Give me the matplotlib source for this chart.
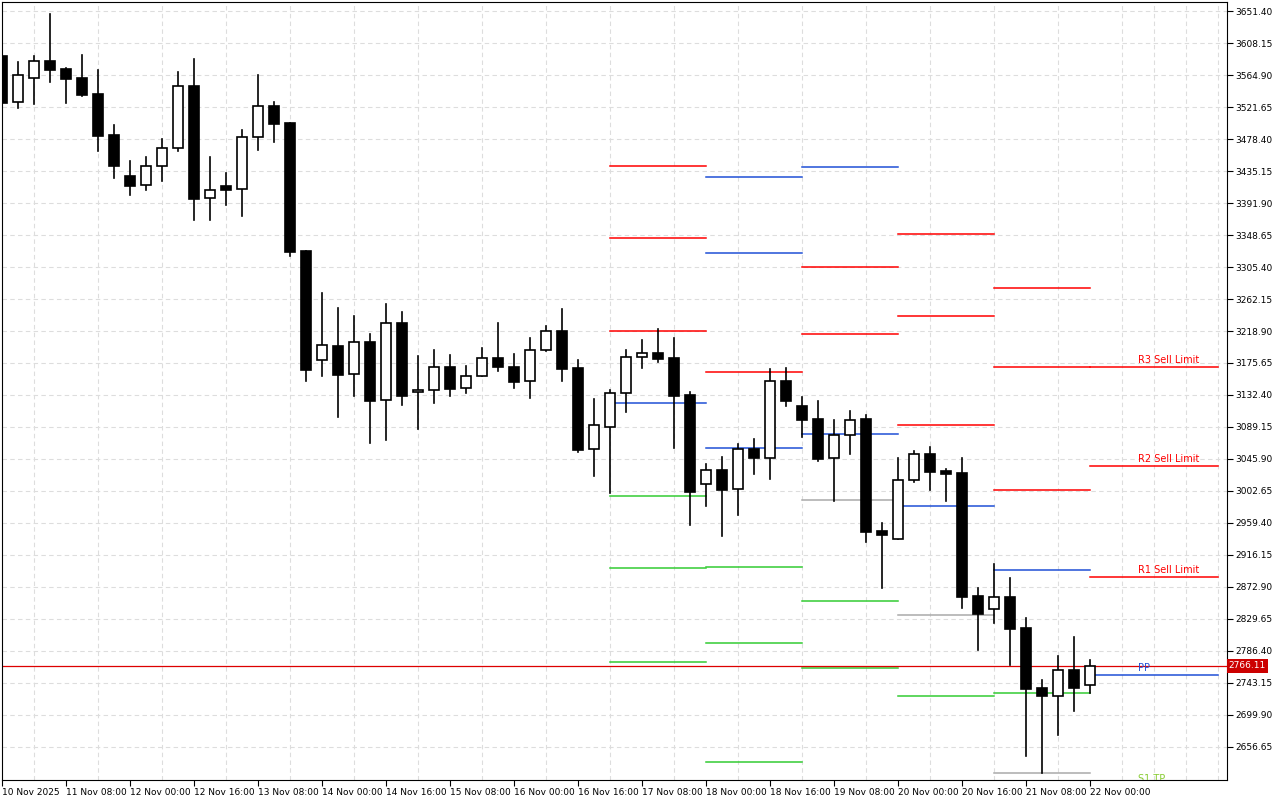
import matplotlib
matplotlib.use("Agg")
import matplotlib.pyplot as plt
from matplotlib.patches import Rectangle

# OHLC (4h candles)
opens = [3590.6, 3528, 3561, 3584, 3573, 3561, 3539, 3484, 3428, 3416, 3442, 3466, 3550, 3399, 3415, 3411, 3481, 3523, 3500, 3327,
         3180, 3199, 3161, 3204, 3126, 3230, 3136, 3139, 3170, 3142, 3158, 3182, 3170, 3151, 3193, 3219, 3169, 3059, 3089, 3135,
         3184, 3189, 3182, 3132, 3012, 3031, 3005, 3059, 3047, 3151, 3118, 3100, 3047, 3078, 3100, 2949, 2938, 3018, 3053, 3030,
         3027, 2861, 2843, 2859, 2818, 2736, 2726, 2761, 2740]
highs = [3596, 3583, 3591, 3647, 3574, 3592, 3572, 3497, 3449, 3454, 3478, 3569, 3587, 3454, 3432, 3491, 3565, 3528, 3500, 3327,
         3270, 3250, 3239, 3215, 3255, 3245, 3185, 3193, 3187, 3172, 3196, 3230, 3188, 3209, 3226, 3249, 3180, 3127, 3139, 3193,
         3207, 3222, 3209, 3136, 3039, 3049, 3066, 3073, 3168, 3169, 3130, 3124, 3099, 3111, 3105, 2959, 3047, 3057, 3062, 3032,
         3047, 2872, 2904, 2885, 2831, 2747, 2780, 2805, 2774]
lows = [3520, 3520, 3526, 3555, 3527, 3537, 3462, 3426, 3403, 3410, 3422, 3462, 3369, 3369, 3389, 3374, 3464, 3474, 3320, 3151,
        3158, 3103, 3131, 3068, 3072, 3119, 3086, 3122, 3131, 3135, 3158, 3165, 3142, 3128, 3192, 3151, 3055, 3023, 3000, 3109,
        3169, 3177, 3061, 2957, 2982, 2942, 2970, 3026, 3019, 3118, 3076, 3043, 2989, 3053, 2934, 2872, 2938, 3015, 3004, 2989,
        2845, 2788, 2824, 2767, 2645, 2622, 2673, 2705, 2730]
closes = [3527, 3565, 3584, 3572, 3560, 3538, 3483, 3442, 3415, 3442, 3466, 3550, 3397, 3410, 3410, 3481, 3523, 3499, 3326, 3166,
          3200, 3159, 3204, 3124, 3230, 3131, 3139, 3170, 3141, 3158, 3182, 3170, 3150, 3193, 3219, 3168, 3058, 3092, 3135, 3184,
          3189, 3181, 3131, 3001, 3031, 3004, 3059, 3047, 3151, 3124, 3099, 3046, 3078, 3099, 2947, 2943, 3018, 3053, 3028, 3026,
          2859, 2836, 2859, 2816, 2735, 2726, 2761, 2736, 2766.11]

date_labels = ["10 Nov 2025", "11 Nov 08:00", "12 Nov 00:00", "12 Nov 16:00", "13 Nov 08:00", "14 Nov 00:00",
               "14 Nov 16:00", "15 Nov 08:00", "16 Nov 00:00", "16 Nov 16:00", "17 Nov 08:00", "18 Nov 00:00",
               "18 Nov 16:00", "19 Nov 08:00", "20 Nov 00:00", "20 Nov 16:00", "21 Nov 08:00", "22 Nov 00:00"]

# pivot level blocks: (start candle, end candle, levels, colours)
pivot_starts = [38, 44, 50, 56, 62, 68]
pivot_ends = [44, 50, 56, 62, 68, 76]
pivot_levels = [
    [3441.9, 3344.6, 3218.9, 3121.6, 2996.0, 2898.6, 2771.5],
    [3427.0, 3324.3, 3163.5, 3060.8, 2899.9, 2797.2, 2636.4],
    [3440.6, 3305.4, 3214.8, 3079.7, 2990.5, 2854.0, 2763.4],
    [3350.0, 3239.2, 3091.8, 2982.4, 2835.0, 2725.6],
    [3277.0, 3170.2, 3004.0, 2895.8, 2729.6, 2621.5],
    [3170.2, 3036.4, 2886.4, 2753.9],
]
pivot_colors = [
    ["red", "red", "red", "#1f4fd6", "#33cc33", "#33cc33", "#33cc33"],
    ["#1f4fd6", "#1f4fd6", "red", "#1f4fd6", "#33cc33", "#33cc33", "#33cc33"],
    ["#1f4fd6", "red", "red", "#1f4fd6", "#aaaaaa", "#33cc33", "#33cc33"],
    ["red", "red", "red", "#1f4fd6", "#aaaaaa", "#33cc33"],
    ["red", "red", "red", "#1f4fd6", "#33cc33", "#aaaaaa"],
    ["red", "red", "red", "#1f4fd6"],
]
level_names = ["R3 Sell Limit", "R2 Sell Limit", "R1 Sell Limit", "PP"]
level_name_colors = ["red", "red", "red", "#1f4fd6"]
current_price = 2766.11
tick_top = 3651.40
tick_step = 43.25

fig = plt.figure(figsize=(12.8, 8), dpi=100)
ax = fig.add_axes([2 / 1280, 20 / 800, 1225 / 1280, 778 / 800])
ax.set_xlim(0, 76.56)
ax.set_ylim(2612.0, 3663.6)

yt = [tick_top - k * tick_step for k in range(24)]
ax.set_yticks(yt)
ax.set_yticklabels([f"{v:.2f}" for v in yt], fontsize=6.5)
ax.yaxis.tick_right()
ax.set_xticks(range(0, 72, 4))
ax.set_xticklabels(date_labels, fontsize=6.5, ha="left")
ax.tick_params(length=4, width=0.8, pad=2)
ax.set_xticks(range(0, 78, 2), minor=True)
ax.tick_params(which="minor", length=0)
ax.grid(True, which="major", axis="y", color="#dddddd", ls=(0, (4, 3)), lw=0.8)
ax.grid(True, which="minor", axis="x", color="#dddddd", ls=(0, (4, 3)), lw=0.8)
ax.set_axisbelow(True)

for i in range(len(opens)):
    o, h, l, c = opens[i], highs[i], lows[i], closes[i]
    ax.plot([i, i], [l, h], color="black", lw=1.2, zorder=2)
    bottom, top = min(o, c), max(o, c)
    face = "white" if c >= o else "black"
    ax.add_patch(Rectangle((i - 0.32, bottom), 0.64, max(top - bottom, 1.5),
                           facecolor=face, edgecolor="black", lw=1.2, zorder=3))

for s, e, levs, cols in zip(pivot_starts, pivot_ends, pivot_levels, pivot_colors):
    for v, col in zip(levs, cols):
        ax.plot([s, e], [v, v], color=col, lw=1.1, zorder=1)

for v, name, col in zip(pivot_levels[-1], level_names, level_name_colors):
    ax.text(71.0, v + 3, name, color=col, fontsize=7, ha="left", va="bottom")
ax.text(71.0, 2606, "S1 TP", color="#88cc33", fontsize=7, ha="left", va="bottom", clip_on=True)

ax.axhline(current_price, color="#dd0000", lw=0.9, zorder=1)
ax.text(1.0015, current_price, f"{current_price:.2f}", transform=ax.get_yaxis_transform(),
        color="white", fontsize=6.5, va="center", ha="left",
        bbox=dict(boxstyle="square,pad=0.25", fc="#cc0000", ec="none"))

fig.savefig("out.png", dpi=100, facecolor="white")
